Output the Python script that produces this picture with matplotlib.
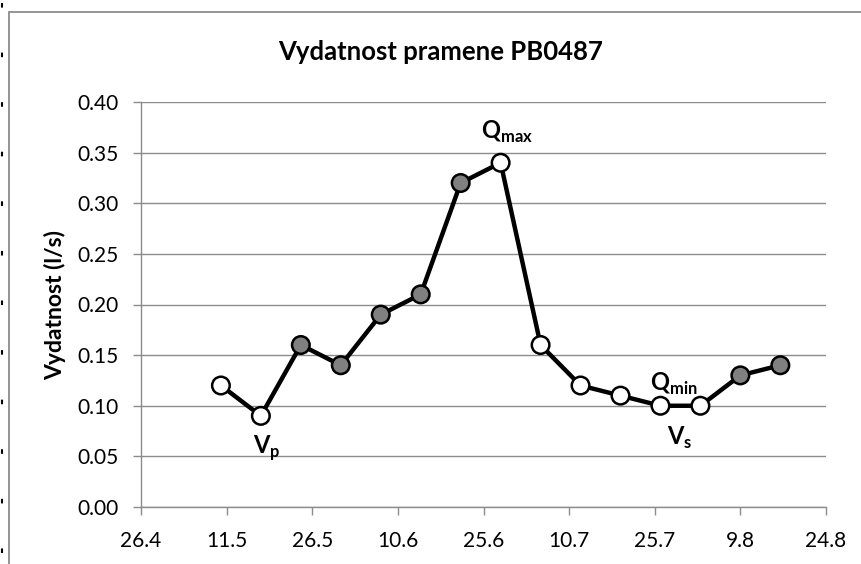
import matplotlib
matplotlib.use("Agg")
import matplotlib.pyplot as plt
import matplotlib.dates as mdates
from matplotlib.lines import Line2D
from matplotlib.patches import Rectangle
from matplotlib.ticker import FuncFormatter
import numpy as np

plt.rcParams["font.family"] = ["Lato", "DejaVu Sans"]
plt.rcParams["mathtext.fontset"] = "custom"
plt.rcParams["mathtext.rm"] = "Lato"
plt.rcParams["mathtext.bf"] = "Lato:bold"

# measurement dates (weekly) and discharge in l/s
dates = ["2011-05-10", "2011-05-17", "2011-05-24", "2011-05-31", "2011-06-07",
         "2011-06-14", "2011-06-21", "2011-06-28", "2011-07-05", "2011-07-12",
         "2011-07-19", "2011-07-26", "2011-08-02", "2011-08-09", "2011-08-16"]
flow = [0.12, 0.09, 0.16, 0.14, 0.19, 0.21, 0.32, 0.34, 0.16, 0.12,
        0.11, 0.10, 0.10, 0.13, 0.14]
# True -> grey filled marker, False -> white marker
grey = [False, False, True, True, True, True, True, False, False, False,
        False, False, False, True, True]

axis_start = "2011-04-26"
axis_end = "2011-08-24"
tick_step_days = 15

labels = [(1, r"$\mathbf{V}_{\mathbf{p}}$", (4, -27)),
          (7, r"$\mathbf{Q}_{\mathbf{max}}$", (5, 17)),
          (11, r"$\mathbf{Q}_{\mathbf{min}}$", (10, 11)),
          (11, r"$\mathbf{V}_{\mathbf{s}}$", (14, -28))]

x = mdates.datestr2num(dates)
x0 = mdates.datestr2num(axis_start)
x1 = mdates.datestr2num(axis_end)

fig = plt.figure(figsize=(8.61, 5.64), dpi=100)
ax = fig.add_axes([141 / 861, 1 - 507 / 564, 685 / 861, 405 / 564])

grid_c = "#8c8c8c"
ax.plot(x, flow, color="black", lw=3.2, zorder=3)
fc = ["#808080" if g else "white" for g in grey]
ax.scatter(x, flow, s=160, c=fc, edgecolors="black", linewidths=1.8, zorder=4)

for i, txt, off in labels:
    ax.annotate(txt, (x[i], flow[i]), xytext=off, textcoords="offset points",
                ha="center", va="baseline", fontsize=17)

ax.set_xlim(x0, x1)
ax.set_ylim(0, 0.40)
ax.set_xticks(np.arange(x0, x1 + 1, tick_step_days))
ax.xaxis.set_major_formatter(FuncFormatter(
    lambda v, p: "{}.{}".format(mdates.num2date(v).day, mdates.num2date(v).month)))
ax.set_yticks(np.arange(0, 0.41, 0.05))
ax.yaxis.set_major_formatter(FuncFormatter(lambda v, p: "{:.2f}".format(v)))

ax.grid(axis="y", color=grid_c, lw=1.0)
ax.set_axisbelow(True)
for s in ["top", "right"]:
    ax.spines[s].set_visible(False)
for s in ["left", "bottom"]:
    ax.spines[s].set_color(grid_c)
    ax.spines[s].set_linewidth(1.0)
ax.tick_params(axis="both", colors=grid_c, length=6, width=1.0, labelcolor="black",
               labelsize=15)
ax.tick_params(axis="y", pad=10)
ax.tick_params(axis="x", pad=11)

ax.set_ylabel("Vydatnost (l/s)", fontsize=16.5, fontweight="bold", labelpad=8)

fig.text(441 / 861, 1 - 52 / 564, "Vydatnost pramene PB0487", fontsize=18.5,
         fontweight="bold", ha="center", va="center")

# chart area border
fig.add_artist(Rectangle((9 / 861, -0.1), 1.2, 1 - 12 / 564 + 0.1,
                         transform=fig.transFigure, fill=False,
                         edgecolor=grid_c, lw=1.3))
# page edge marks on the left
fig.add_artist(Line2D([1.5 / 861, 1.5 / 861], [1 - 3 / 564, 0],
                      transform=fig.transFigure, color="black", lw=1.5,
                      linestyle=(0, (2.2, 21.6))))

fig.savefig("out.png", dpi=100)
